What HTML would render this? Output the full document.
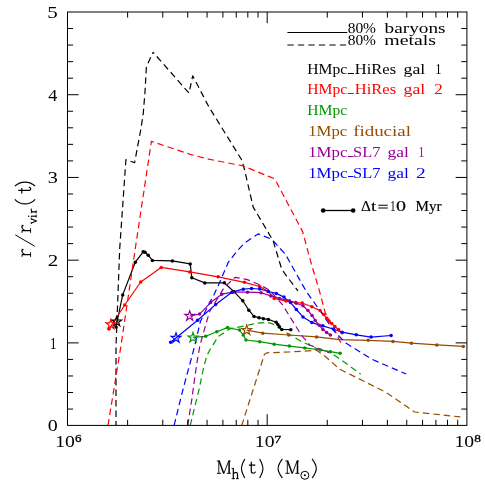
<!DOCTYPE html>
<html><head><meta charset="utf-8"><title>plot</title>
<style>
html,body{margin:0;padding:0;background:#fff;}
body{width:485px;height:485px;overflow:hidden;font-family:"Liberation Serif",serif;}
svg{display:block;will-change:transform;}
text{font-family:"Liberation Serif",serif;}
</style></head><body>
<svg width="485" height="485" viewBox="0 0 485 485">
<rect width="485" height="485" fill="#fff"/>
<defs><clipPath id="c"><rect x="67.5" y="12.0" width="399.4" height="413.4"/></clipPath></defs>

<g clip-path="url(#c)" fill="none" stroke-width="1.2" stroke-linejoin="round">
<polyline points="116.0,327.0 122.7,294.9 135.3,262.2 143.2,251.8 145.0,252.3 148.2,255.2 152.4,260.4 172.4,260.9 190.2,263.9 191.8,277.7 204.8,282.9 224.3,282.8 234.0,291.7 242.8,300.8 248.8,310.2 254.0,316.4 259.0,317.7 263.4,318.7 268.4,319.4 276.2,322.3 277.8,324.5 279.4,326.7 281.8,329.4 290.8,329.7" stroke="#000"/>
<polyline points="109.1,329.0 124.7,305.0 140.7,282.0 161.2,267.4 189.7,271.9 218.1,276.8 244.5,282.3 259.5,286.5 268.0,291.2 274.2,298.4 286.1,301.1 295.6,302.6 302.2,303.0 311.9,306.7 320.1,310.6 323.9,314.6 326.7,318.3 328.8,321.0 331.7,323.6 334.8,326.5 338.5,329.6 342.0,332.7" stroke="#ff0000"/>
<polyline points="192.8,337.4 205.7,336.3 216.8,331.8 227.5,327.6 239.5,330.0 243.2,334.9 246.0,340.0 259.7,341.7 274.1,344.2 289.4,346.1 304.8,347.9 320.4,350.0 330.5,351.7 340.2,353.3" stroke="#009900"/>
<polyline points="246.7,330.2 262.8,333.2 288.7,335.0 316.6,336.9 339.7,339.7 368.2,340.3 393.0,341.4 411.5,343.2 436.8,344.9 463.3,346.4" stroke="#964b00"/>
<polyline points="189.7,316.0 199.6,314.1 210.6,302.6 221.8,294.2 232.9,292.2 247.5,292.2 261.1,292.7 270.8,295.9 279.5,298.4 289.4,300.8 296.3,303.3 303.0,305.8 308.0,310.6 312.0,315.4 315.2,320.4 319.2,325.3 322.9,329.4 326.6,332.4 330.4,335.0" stroke="#960096"/>
<polyline points="170.7,342.2 197.6,320.2 215.6,304.6 231.9,292.2 243.2,289.2 251.6,288.5 259.7,289.0 268.4,291.5 276.3,293.4 284.0,297.1 290.6,302.6 296.3,309.5 303.0,316.9 311.8,322.6 322.8,325.8 333.7,329.2 342.2,332.2 356.3,334.8 371.1,337.1 391.1,335.5" stroke="#0000ff"/>
<polyline points="116.0,425.5 116.0,346.3 119.7,248.8 125.9,159.7 134.6,162.7 140.7,130.0 143.2,114.2 145.0,91.9 146.4,66.6 153.1,52.3" stroke="#000" stroke-dasharray="6.5 4" stroke-dashoffset="2"/>
<polyline points="153.1,52.3 189.0,93.1 192.7,75.8 208.8,106.7 242.0,160.4 244.6,170.0 253.2,207.1 273.0,240.5 281.7,269.0 285.7,274.9 298.0,290.9" stroke="#000" stroke-dasharray="6.5 4" stroke-dashoffset="4.9"/>
<polyline points="108.0,425.5 120.9,346.3 135.8,245.1 151.4,141.3 190.0,154.3 208.8,159.2 243.2,165.9 274.8,178.9 285.3,198.8 302.7,231.9 311.4,264.1 319.1,289.7 325.1,312.2 333.7,328.0 341.2,343.7" stroke="#ff0000" stroke-dasharray="6.5 4" stroke-dashoffset="0"/>
<polyline points="190.2,425.5 196.6,399.4 199.3,388.5 203.4,368.5 206.7,356.0 209.5,350.5 218.1,336.7 230.0,328.8 244.9,325.8 256.5,323.3 267.5,322.4 272.0,323.6 276.3,326.4 289.5,334.6 301.0,341.2 316.6,348.6 329.8,352.2 342.2,360.5 360.7,374.2" stroke="#009900" stroke-dasharray="6.5 4" stroke-dashoffset="0"/>
<polyline points="241.7,425.5 264.5,354.2 267.0,352.8 289.4,352.0 316.6,350.3 325.3,356.5 339.7,369.2 362.0,380.3 384.3,391.5 392.2,396.6 414.5,412.0 460.3,416.9" stroke="#964b00" stroke-dasharray="6.5 4" stroke-dashoffset="0"/>
<polyline points="187.7,425.5 192.0,398.2 194.8,377.1 197.8,357.3 200.0,345.0 209.4,312.0 224.3,287.2 235.2,277.3 247.3,279.6 259.7,284.8 269.6,290.2 282.4,304.6 300.9,334.5 309.8,345.0 329.0,352.8" stroke="#960096" stroke-dasharray="6.5 4" stroke-dashoffset="0"/>
<polyline points="174.1,425.5 180.5,399.4 183.0,389.5 188.6,368.5 191.7,357.3 195.0,344.5 200.4,321.5 209.2,303.4 214.1,294.5 220.9,279.6 228.3,262.3 237.0,251.1 244.5,243.0 258.2,233.9 271.8,239.3 285.4,254.2 297.8,276.4 306.7,292.2 322.8,314.6 334.4,331.5 345.9,343.1 371.9,359.3 406.2,374.0" stroke="#0000ff" stroke-dasharray="6.5 4" stroke-dashoffset="0"/>
</g>
<g fill="#000"><circle cx="116.0" cy="327.0" r="1.75"/><circle cx="122.7" cy="294.9" r="1.75"/><circle cx="135.3" cy="262.2" r="1.75"/><circle cx="143.2" cy="251.8" r="1.75"/><circle cx="145.0" cy="252.3" r="1.75"/><circle cx="148.2" cy="255.2" r="1.75"/><circle cx="152.4" cy="260.4" r="1.75"/><circle cx="172.4" cy="260.9" r="1.75"/><circle cx="190.2" cy="263.9" r="1.75"/><circle cx="191.8" cy="277.7" r="1.75"/><circle cx="204.8" cy="282.9" r="1.75"/><circle cx="224.3" cy="282.8" r="1.75"/><circle cx="234.0" cy="291.7" r="1.75"/><circle cx="242.8" cy="300.8" r="1.75"/><circle cx="248.8" cy="310.2" r="1.75"/><circle cx="254.0" cy="316.4" r="1.75"/><circle cx="259.0" cy="317.7" r="1.75"/><circle cx="263.4" cy="318.7" r="1.75"/><circle cx="268.4" cy="319.4" r="1.75"/><circle cx="276.2" cy="322.3" r="1.75"/><circle cx="277.8" cy="324.5" r="1.75"/><circle cx="279.4" cy="326.7" r="1.75"/><circle cx="281.8" cy="329.4" r="1.75"/><circle cx="290.8" cy="329.7" r="1.75"/></g>
<polygon points="116.7,316.4 117.9,320.0 121.6,320.0 118.6,322.2 119.8,325.8 116.7,323.6 113.6,325.8 114.8,322.2 111.8,320.0 115.5,320.0" fill="none" stroke="#000" stroke-width="1.15"/>
<g fill="#ff0000"><circle cx="109.1" cy="329.0" r="1.75"/><circle cx="124.7" cy="305.0" r="1.75"/><circle cx="140.7" cy="282.0" r="1.75"/><circle cx="161.2" cy="267.4" r="1.75"/><circle cx="189.7" cy="271.9" r="1.75"/><circle cx="218.1" cy="276.8" r="1.75"/><circle cx="244.5" cy="282.3" r="1.75"/><circle cx="259.5" cy="286.5" r="1.75"/><circle cx="268.0" cy="291.2" r="1.75"/><circle cx="274.2" cy="298.4" r="1.75"/><circle cx="286.1" cy="301.1" r="1.75"/><circle cx="295.6" cy="302.6" r="1.75"/><circle cx="302.2" cy="303.0" r="1.75"/><circle cx="311.9" cy="306.7" r="1.75"/><circle cx="320.1" cy="310.6" r="1.75"/><circle cx="323.9" cy="314.6" r="1.75"/><circle cx="326.7" cy="318.3" r="1.75"/><circle cx="328.8" cy="321.0" r="1.75"/><circle cx="331.7" cy="323.6" r="1.75"/><circle cx="334.8" cy="326.5" r="1.75"/><circle cx="338.5" cy="329.6" r="1.75"/><circle cx="342.0" cy="332.7" r="1.75"/></g>
<polygon points="110.9,319.3 112.1,322.9 115.8,322.9 112.8,325.1 114.0,328.7 110.9,326.5 107.8,328.7 109.0,325.1 106.0,322.9 109.7,322.9" fill="none" stroke="#ff0000" stroke-width="1.15"/>
<g fill="#009900"><circle cx="205.7" cy="336.3" r="1.75"/><circle cx="216.8" cy="331.8" r="1.75"/><circle cx="227.5" cy="327.6" r="1.75"/><circle cx="239.5" cy="330.0" r="1.75"/><circle cx="243.2" cy="334.9" r="1.75"/><circle cx="246.0" cy="340.0" r="1.75"/><circle cx="259.7" cy="341.7" r="1.75"/><circle cx="274.1" cy="344.2" r="1.75"/><circle cx="289.4" cy="346.1" r="1.75"/><circle cx="304.8" cy="347.9" r="1.75"/><circle cx="320.4" cy="350.0" r="1.75"/><circle cx="330.5" cy="351.7" r="1.75"/><circle cx="340.2" cy="353.3" r="1.75"/></g>
<polygon points="193.0,332.4 194.2,336.0 197.9,336.0 194.9,338.2 196.1,341.8 193.0,339.6 189.9,341.8 191.1,338.2 188.1,336.0 191.8,336.0" fill="none" stroke="#009900" stroke-width="1.15"/>
<g fill="#964b00"><circle cx="262.8" cy="333.2" r="1.75"/><circle cx="288.7" cy="335.0" r="1.75"/><circle cx="316.6" cy="336.9" r="1.75"/><circle cx="368.2" cy="340.3" r="1.75"/><circle cx="393.0" cy="341.4" r="1.75"/><circle cx="411.5" cy="343.2" r="1.75"/><circle cx="436.8" cy="344.9" r="1.75"/><circle cx="463.3" cy="346.4" r="1.75"/></g>
<polygon points="246.7,325.0 247.9,328.6 251.6,328.6 248.6,330.8 249.8,334.4 246.7,332.2 243.6,334.4 244.8,330.8 241.8,328.6 245.5,328.6" fill="none" stroke="#964b00" stroke-width="1.15"/>
<g fill="#960096"><circle cx="199.6" cy="314.1" r="1.75"/><circle cx="210.6" cy="302.6" r="1.75"/><circle cx="221.8" cy="294.2" r="1.75"/><circle cx="232.9" cy="292.2" r="1.75"/><circle cx="247.5" cy="292.2" r="1.75"/><circle cx="261.1" cy="292.7" r="1.75"/><circle cx="270.8" cy="295.9" r="1.75"/><circle cx="279.5" cy="298.4" r="1.75"/><circle cx="289.4" cy="300.8" r="1.75"/><circle cx="296.3" cy="303.3" r="1.75"/><circle cx="303.0" cy="305.8" r="1.75"/><circle cx="308.0" cy="310.6" r="1.75"/><circle cx="312.0" cy="315.4" r="1.75"/><circle cx="315.2" cy="320.4" r="1.75"/><circle cx="319.2" cy="325.3" r="1.75"/><circle cx="322.9" cy="329.4" r="1.75"/><circle cx="326.6" cy="332.4" r="1.75"/><circle cx="330.4" cy="335.0" r="1.75"/></g>
<polygon points="189.7,310.8 190.9,314.4 194.6,314.4 191.6,316.6 192.8,320.2 189.7,318.0 186.6,320.2 187.8,316.6 184.8,314.4 188.5,314.4" fill="none" stroke="#960096" stroke-width="1.15"/>
<g fill="#0000ff"><circle cx="170.7" cy="342.2" r="1.75"/><circle cx="197.6" cy="320.2" r="1.75"/><circle cx="215.6" cy="304.6" r="1.75"/><circle cx="231.9" cy="292.2" r="1.75"/><circle cx="243.2" cy="289.2" r="1.75"/><circle cx="251.6" cy="288.5" r="1.75"/><circle cx="259.7" cy="289.0" r="1.75"/><circle cx="268.4" cy="291.5" r="1.75"/><circle cx="276.3" cy="293.4" r="1.75"/><circle cx="284.0" cy="297.1" r="1.75"/><circle cx="290.6" cy="302.6" r="1.75"/><circle cx="296.3" cy="309.5" r="1.75"/><circle cx="303.0" cy="316.9" r="1.75"/><circle cx="311.8" cy="322.6" r="1.75"/><circle cx="322.8" cy="325.8" r="1.75"/><circle cx="333.7" cy="329.2" r="1.75"/><circle cx="342.2" cy="332.2" r="1.75"/><circle cx="356.3" cy="334.8" r="1.75"/><circle cx="371.1" cy="337.1" r="1.75"/><circle cx="391.1" cy="335.5" r="1.75"/></g>
<polygon points="176.0,332.8 177.2,336.4 180.9,336.4 177.9,338.6 179.1,342.2 176.0,340.0 172.9,342.2 174.1,338.6 171.1,336.4 174.8,336.4" fill="none" stroke="#0000ff" stroke-width="1.15"/>
<rect x="67.5" y="12.0" width="399.4" height="413.4" fill="none" stroke="#000" stroke-width="1"/>
<path d="M127.61 425.40L127.61 419.80 M127.61 12.00L127.61 17.60 M162.77 425.40L162.77 419.80 M162.77 12.00L162.77 17.60 M187.72 425.40L187.72 419.80 M187.72 12.00L187.72 17.60 M207.07 425.40L207.07 419.80 M207.07 12.00L207.07 17.60 M222.88 425.40L222.88 419.80 M222.88 12.00L222.88 17.60 M236.24 425.40L236.24 419.80 M236.24 12.00L236.24 17.60 M247.82 425.40L247.82 419.80 M247.82 12.00L247.82 17.60 M258.04 425.40L258.04 419.80 M258.04 12.00L258.04 17.60 M267.18 425.40L267.18 414.20 M267.18 12.00L267.18 23.20 M327.28 425.40L327.28 419.80 M327.28 12.00L327.28 17.60 M362.44 425.40L362.44 419.80 M362.44 12.00L362.44 17.60 M387.39 425.40L387.39 419.80 M387.39 12.00L387.39 17.60 M406.74 425.40L406.74 419.80 M406.74 12.00L406.74 17.60 M422.55 425.40L422.55 419.80 M422.55 12.00L422.55 17.60 M435.92 425.40L435.92 419.80 M435.92 12.00L435.92 17.60 M447.50 425.40L447.50 419.80 M447.50 12.00L447.50 17.60 M457.71 425.40L457.71 419.80 M457.71 12.00L457.71 17.60 M67.50 409.06L73.10 409.06 M466.85 409.06L461.25 409.06 M67.50 392.51L73.10 392.51 M466.85 392.51L461.25 392.51 M67.50 375.97L73.10 375.97 M466.85 375.97L461.25 375.97 M67.50 359.42L73.10 359.42 M466.85 359.42L461.25 359.42 M67.50 342.88L78.70 342.88 M466.85 342.88L455.65 342.88 M67.50 326.34L73.10 326.34 M466.85 326.34L461.25 326.34 M67.50 309.79L73.10 309.79 M466.85 309.79L461.25 309.79 M67.50 293.25L73.10 293.25 M466.85 293.25L461.25 293.25 M67.50 276.70L73.10 276.70 M466.85 276.70L461.25 276.70 M67.50 260.16L78.70 260.16 M466.85 260.16L455.65 260.16 M67.50 243.62L73.10 243.62 M466.85 243.62L461.25 243.62 M67.50 227.07L73.10 227.07 M466.85 227.07L461.25 227.07 M67.50 210.53L73.10 210.53 M466.85 210.53L461.25 210.53 M67.50 193.98L73.10 193.98 M466.85 193.98L461.25 193.98 M67.50 177.44L78.70 177.44 M466.85 177.44L455.65 177.44 M67.50 160.90L73.10 160.90 M466.85 160.90L461.25 160.90 M67.50 144.35L73.10 144.35 M466.85 144.35L461.25 144.35 M67.50 127.81L73.10 127.81 M466.85 127.81L461.25 127.81 M67.50 111.26L73.10 111.26 M466.85 111.26L461.25 111.26 M67.50 94.72L78.70 94.72 M466.85 94.72L455.65 94.72 M67.50 78.18L73.10 78.18 M466.85 78.18L461.25 78.18 M67.50 61.63L73.10 61.63 M466.85 61.63L461.25 61.63 M67.50 45.09L73.10 45.09 M466.85 45.09L461.25 45.09 M67.50 28.54L73.10 28.54 M466.85 28.54L461.25 28.54" stroke="#000" stroke-width="1" fill="none"/>
<text transform="translate(47.80,431.44) scale(0.2000,0.1615)" font-size="100" fill="#000">0</text>
<text transform="translate(49.90,348.88) scale(0.1296,0.1652)" font-size="100" fill="#000">1</text>
<text transform="translate(47.66,266.16) scale(0.2100,0.1652)" font-size="100" fill="#000">2</text>
<text transform="translate(47.69,183.28) scale(0.2024,0.1627)" font-size="100" fill="#000">3</text>
<text transform="translate(48.24,100.72) scale(0.1806,0.1652)" font-size="100" fill="#000">4</text>
<text transform="translate(47.34,17.84) scale(0.2100,0.1639)" font-size="100" fill="#000">5</text>
<text transform="translate(55.23,447.34) scale(0.1966,0.1644)" font-size="100" fill="#000">10</text>
<text transform="translate(74.98,442.40) scale(0.1302,0.0985)" font-size="100" fill="#000" stroke="#000" stroke-width="3">6</text>
<text transform="translate(254.83,447.34) scale(0.1966,0.1644)" font-size="100" fill="#000">10</text>
<text transform="translate(274.20,442.50) scale(0.1383,0.1008)" font-size="100" fill="#000" stroke="#000" stroke-width="3">7</text>
<text transform="translate(454.53,447.34) scale(0.1966,0.1644)" font-size="100" fill="#000">10</text>
<text transform="translate(474.27,442.40) scale(0.1333,0.0978)" font-size="100" fill="#000" stroke="#000" stroke-width="3">8</text>
<path d="M218.8 460.7V473.6" fill="none" stroke="#000" stroke-width="0.90" stroke-linecap="butt"/><path d="M219.0 460.7L223.8 473.6" fill="none" stroke="#000" stroke-width="1.50" stroke-linecap="butt"/><path d="M223.8 473.6L228.8 460.7" fill="none" stroke="#000" stroke-width="0.90" stroke-linecap="butt"/><path d="M229.1 460.7V473.6" fill="none" stroke="#000" stroke-width="1.50" stroke-linecap="butt"/><path d="M216.9 461.0H219.8 M216.9 473.3H221.2 M228.5 461.0H230.7 M226.9 473.3H230.9" fill="none" stroke="#000" stroke-width="0.90" stroke-linecap="butt"/>
<path d="M233.3 468.1V479 M233.3 473.8Q235.6 471.6 236.8 472.6Q237.5 473.3 237.5 474.6V479" fill="none" stroke="#000" stroke-width="1.20" stroke-linecap="butt"/>
<path d="M231.6 468.4H233.3 M231.7 478.7H235 M236 478.7H238.8" fill="none" stroke="#000" stroke-width="0.90" stroke-linecap="butt"/>
<path d="M244.8 459.0Q241.5 464.8 241.5 468.5Q241.5 472.2 244.8 478.0" fill="none" stroke="#000" stroke-width="1.15" stroke-linecap="butt"/>
<path d="M251.3 461.7V471.0Q251.3 473.2 253.1 473.2Q255.1 473.2 255.6 471.6 M248.9 465.2H255.3" fill="none" stroke="#000" stroke-width="1.20" stroke-linecap="butt"/>
<path d="M259.6 459.0Q262.9 464.8 262.9 468.5Q262.9 472.2 259.6 478.0" fill="none" stroke="#000" stroke-width="1.15" stroke-linecap="butt"/>
<path d="M282.4 458.8Q278.1 464.6 278.1 468.4Q278.1 472.2 282.4 478.0" fill="none" stroke="#000" stroke-width="1.15" stroke-linecap="butt"/>
<path d="M287.3 460.7V473.6" fill="none" stroke="#000" stroke-width="0.90" stroke-linecap="butt"/><path d="M287.5 460.7L292.3 473.6" fill="none" stroke="#000" stroke-width="1.50" stroke-linecap="butt"/><path d="M292.3 473.6L297.2 460.7" fill="none" stroke="#000" stroke-width="0.90" stroke-linecap="butt"/><path d="M297.5 460.7V473.6" fill="none" stroke="#000" stroke-width="1.50" stroke-linecap="butt"/><path d="M285.4 461.0H288.3 M285.4 473.3H289.7 M296.9 461.0H299.1 M295.3 473.3H299.3" fill="none" stroke="#000" stroke-width="0.90" stroke-linecap="butt"/>
<circle cx="304.85" cy="475.3" r="4.0" fill="none" stroke="#000" stroke-width="1"/><circle cx="304.85" cy="475.3" r="1.05" fill="#000"/>
<path d="M312.1 458.8Q316.3 464.6 316.3 468.4Q316.3 472.2 312.1 478.0" fill="none" stroke="#000" stroke-width="1.15" stroke-linecap="butt"/>
<g transform="translate(31,256.6) rotate(-90)">
<path d="M2.00 -0.30V-9.20 M2.00 -6.20Q3.40 -8.93 5.60 -9.21Q7.00 -9.21 7.20 -8.08" fill="none" stroke="#000" stroke-width="1.20" stroke-linecap="butt"/><path d="M-0.30 -0.45H4.40 M-0.30 -8.95H2.00" fill="none" stroke="#000" stroke-width="0.90" stroke-linecap="butt"/><circle cx="7.00" cy="-8.27" r="0.90" fill="#000"/>
<path d="M10.4 3.7L21.7 -15.7" fill="none" stroke="#000" stroke-width="1.00" stroke-linecap="butt"/>
<path d="M26.00 -0.30V-9.20 M26.00 -6.20Q27.40 -8.93 29.60 -9.21Q31.00 -9.21 31.20 -8.08" fill="none" stroke="#000" stroke-width="1.20" stroke-linecap="butt"/><path d="M23.70 -0.45H28.40 M23.70 -8.95H26.00" fill="none" stroke="#000" stroke-width="0.90" stroke-linecap="butt"/><circle cx="31.00" cy="-8.27" r="0.90" fill="#000"/>
<path d="M33.4 0L35.6 5.3L37.8 0" fill="none" stroke="#000" stroke-width="1.10" stroke-linecap="butt"/><path d="M32.6 0.2H34.6 M36.8 0.2H38.6" fill="none" stroke="#000" stroke-width="0.80" stroke-linecap="butt"/>
<path d="M40.4 0V5.4" fill="none" stroke="#000" stroke-width="1.15" stroke-linecap="butt"/><path d="M39.2 0.3H40.4 M39.0 5.2H41.9" fill="none" stroke="#000" stroke-width="0.85" stroke-linecap="butt"/><circle cx="40.3" cy="-2.3" r="0.75"/>
<path d="M44.7 0V5.4 M44.7 1.9Q45.6 0.2 46.9 0.1Q47.6 0.1 47.7 0.7" fill="none" stroke="#000" stroke-width="1.10" stroke-linecap="butt"/><path d="M43.4 0.3H44.7 M43.2 5.2H46.3" fill="none" stroke="#000" stroke-width="0.85" stroke-linecap="butt"/>
<path d="M57.3 -16.2Q52.7 -12 52.7 -6Q52.7 0 57.3 4.2" fill="none" stroke="#000" stroke-width="1.15" stroke-linecap="butt"/>
<path d="M66.2 -12.8V-2.6Q66.2 -0.3 67.8 -0.3Q69.3 -0.3 69.5 -2.2 M63.1 -9.2H68.6" fill="none" stroke="#000" stroke-width="1.20" stroke-linecap="butt"/>
<path d="M70.4 -16.2Q74.5 -12 74.5 -6Q74.5 0 70.4 4.2" fill="none" stroke="#000" stroke-width="1.15" stroke-linecap="butt"/>
</g>
<path d="M287.4 32.5H347.3" stroke="#000" stroke-width="1"/>
<path d="M287.4 45.0H347.3" stroke="#000" stroke-width="1" stroke-dasharray="6.3 4.2"/>
<text transform="translate(347.68,32.50) scale(1.081,1)" font-size="14.30" fill="#000">80%</text>
<text transform="translate(384.60,32.50) scale(1.347,1)" font-size="14.30" fill="#000">baryons</text>
<text transform="translate(347.68,44.90) scale(1.081,1)" font-size="14.30" fill="#000">80%</text>
<text transform="translate(384.20,44.90) scale(1.388,1)" font-size="14.30" fill="#000">metals</text>
<text transform="translate(307.33,74.10) scale(1.093,1)" font-size="14.30" fill="#000">HMpc</text>
<path d="M347.9 73.5H353.8" stroke="#000" stroke-width="1"/>
<text transform="translate(354.80,74.10) scale(1.154,1)" font-size="14.30" fill="#000">HiRes</text>
<text transform="translate(403.60,74.10) scale(1.242,1)" font-size="14.30" fill="#000">gal</text>
<text transform="translate(435.15,74.10) scale(0.867,1)" font-size="14.30" fill="#000">1</text>
<text transform="translate(307.33,94.40) scale(1.093,1)" font-size="14.30" fill="#ff0000">HMpc</text>
<path d="M347.9 93.5H353.8" stroke="#ff0000" stroke-width="1"/>
<text transform="translate(354.80,94.40) scale(1.154,1)" font-size="14.30" fill="#ff0000">HiRes</text>
<text transform="translate(403.60,94.40) scale(1.242,1)" font-size="14.30" fill="#ff0000">gal</text>
<text transform="translate(434.34,94.40) scale(1.189,1)" font-size="14.30" fill="#ff0000">2</text>
<text transform="translate(307.33,114.90) scale(1.093,1)" font-size="14.30" fill="#009900">HMpc</text>
<text transform="translate(308.18,136.30) scale(1.172,1)" font-size="14.30" fill="#964b00">1Mpc</text>
<text transform="translate(353.13,136.30) scale(1.324,1)" font-size="14.30" fill="#964b00">fiducial</text>
<text transform="translate(308.17,157.20) scale(1.178,1)" font-size="14.30" fill="#960096">1Mpc</text>
<path d="M348.0 156.5H353.5" stroke="#960096" stroke-width="1"/>
<text transform="translate(353.04,157.20) scale(1.145,1)" font-size="14.30" fill="#960096">SL7</text>
<text transform="translate(387.41,157.20) scale(1.224,1)" font-size="14.30" fill="#960096">gal</text>
<text transform="translate(418.42,157.20) scale(0.808,1)" font-size="14.30" fill="#960096">1</text>
<text transform="translate(308.17,177.50) scale(1.178,1)" font-size="14.30" fill="#0000ff">1Mpc</text>
<path d="M348.0 176.5H353.5" stroke="#0000ff" stroke-width="1"/>
<text transform="translate(353.04,177.50) scale(1.145,1)" font-size="14.30" fill="#0000ff">SL7</text>
<text transform="translate(387.41,177.50) scale(1.224,1)" font-size="14.30" fill="#0000ff">gal</text>
<text transform="translate(416.02,177.50) scale(1.364,1)" font-size="14.30" fill="#0000ff">2</text>
<path d="M323.2 210.5H353.2" stroke="#000" stroke-width="1.3"/><circle cx="323.2" cy="210.5" r="2.3"/><circle cx="353.2" cy="210.5" r="2.3"/>
<text transform="translate(360.88,210.50) scale(1.077,1)" font-size="14.30" fill="#000" stroke="#000" stroke-width="0.15">Δ</text>
<text transform="translate(371.11,210.50) scale(1.345,1)" font-size="14.30" fill="#000" stroke="#000" stroke-width="0.15">t</text>
<path d="M378.3 205.2H387.8M378.3 208.0H387.8" stroke="#000" stroke-width="1.1"/>
<text transform="translate(390.39,210.50) scale(0.670,1)" font-size="14.30" fill="#000" stroke="#000" stroke-width="0.15">1</text>
<text transform="translate(395.90,210.50) scale(1.399,1)" font-size="14.30" fill="#000" stroke="#000" stroke-width="0.15">0</text>
<text transform="translate(415.45,210.50) scale(1.058,1)" font-size="14.30" fill="#000" stroke="#000" stroke-width="0.15">Myr</text>
</svg></body></html>
